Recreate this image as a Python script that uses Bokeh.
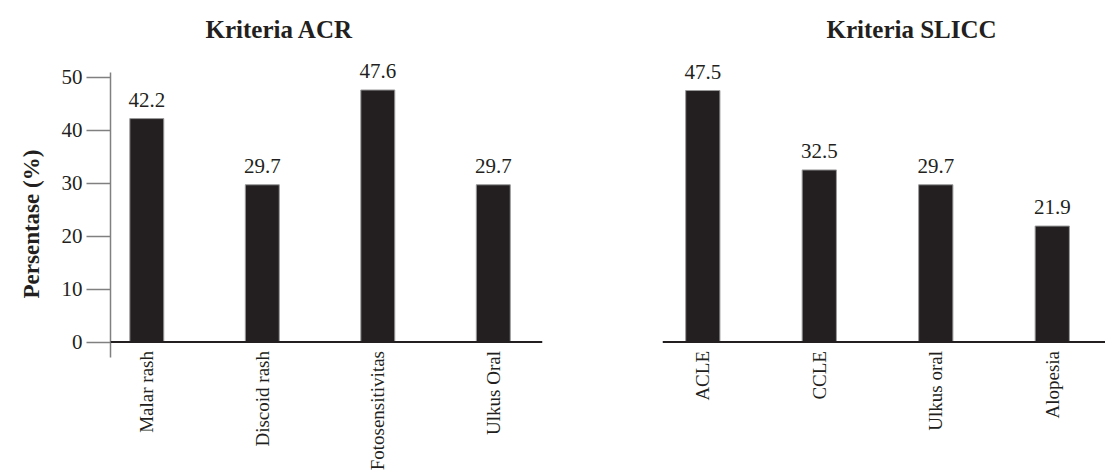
import math
from bokeh.plotting import figure
from bokeh.layouts import row
from bokeh.models import Range1d, FixedTicker, Span, ColumnDataSource, Title, LabelSet
from bokeh.embed import file_html
from bokeh.resources import INLINE

# ---- data ----
acr_categories = ["Malar rash", "Discoid rash", "Fotosensitivitas", "Ulkus Oral"]
acr_values = [42.2, 29.7, 47.6, 29.7]
slicc_categories = ["ACLE", "CCLE", "Ulkus oral", "Alopesia"]
slicc_values = [47.5, 32.5, 29.7, 21.9]
y_ticks = [0, 10, 20, 30, 40, 50]
titles = ["Kriteria ACR", "Kriteria SLICC"]
y_label = "Persentase (%)"

FONT = "Liberation Serif"
DARK = "#231f20"
GRAY = "#808080"
Y_RANGE = (-24.27, 55.06)
AXIS_BOUNDS = (-2.87, 50.85)


def make_panel(cats, vals, title, width, border_left, border_right, xr, show_y,
               title_offset, title_standoff):
    p = figure(width=width, height=470, output_backend="svg", toolbar_location=None,
               x_range=Range1d(*xr), y_range=Range1d(*Y_RANGE),
               min_border_left=border_left, min_border_right=border_right,
               min_border_top=50, min_border_bottom=0)
    p.title = Title(text=title, text_font=FONT, text_font_size="25px", text_font_style="bold",
                    text_color=DARK, align="left", offset=title_offset,
                    standoff=title_standoff)
    p.outline_line_color = None
    p.grid.visible = False
    p.background_fill_color = "white"
    p.border_fill_color = "white"
    p.xaxis.visible = False

    idx = list(range(len(cats)))
    src = ColumnDataSource(dict(x=idx, top=vals, lab=[f"{v:.1f}" for v in vals], cat=cats))
    p.vbar(x="x", top="top", bottom=0, width=0.294, source=src,
           fill_color=DARK, line_color="#9a9a9a", line_width=1)
    p.add_layout(LabelSet(x="x", y="top", text="lab", source=src, text_align="center",
                          text_baseline="alphabetic", y_offset=12, text_font=FONT,
                          text_font_size="21px", text_color=DARK))
    p.add_layout(LabelSet(x="x", y=0, text="cat", source=src, angle=math.pi / 2,
                          text_align="right", text_baseline="middle", y_offset=-9,
                          text_font=FONT, text_font_size="19px", text_color=DARK))

    p.add_layout(Span(location=0, dimension="width", line_color=DARK, line_width=2))

    ya = p.yaxis[0]
    if show_y:
        ya.ticker = FixedTicker(ticks=y_ticks)
        ya.bounds = AXIS_BOUNDS
        ya.axis_line_color = GRAY
        ya.axis_line_width = 1.5
        ya.major_tick_line_color = GRAY
        ya.major_tick_line_width = 1.5
        ya.major_tick_in = 0
        ya.major_tick_out = 24
        ya.minor_tick_line_color = None
        ya.major_label_standoff = 4
        ya.major_label_text_font = FONT
        ya.major_label_text_font_size = "21px"
        ya.major_label_text_color = DARK
        p.add_layout(Title(text=y_label, text_font=FONT, text_font_size="23px",
                           text_font_style="bold", text_color=DARK, align="left",
                           offset=172, standoff=30), "left")
    else:
        ya.visible = False
    return p


left = make_panel(acr_categories, acr_values, titles[0], 600, 110, 58,
                  (-0.3143, 3.426), True, 95, 16)
right = make_panel(slicc_categories, slicc_values, titles[1], 505, 62, 0,
                   (-0.346, 3.457), False, 164, 16)

layout = row(left, right)
open("out.html", "w").write(file_html(layout, INLINE))
